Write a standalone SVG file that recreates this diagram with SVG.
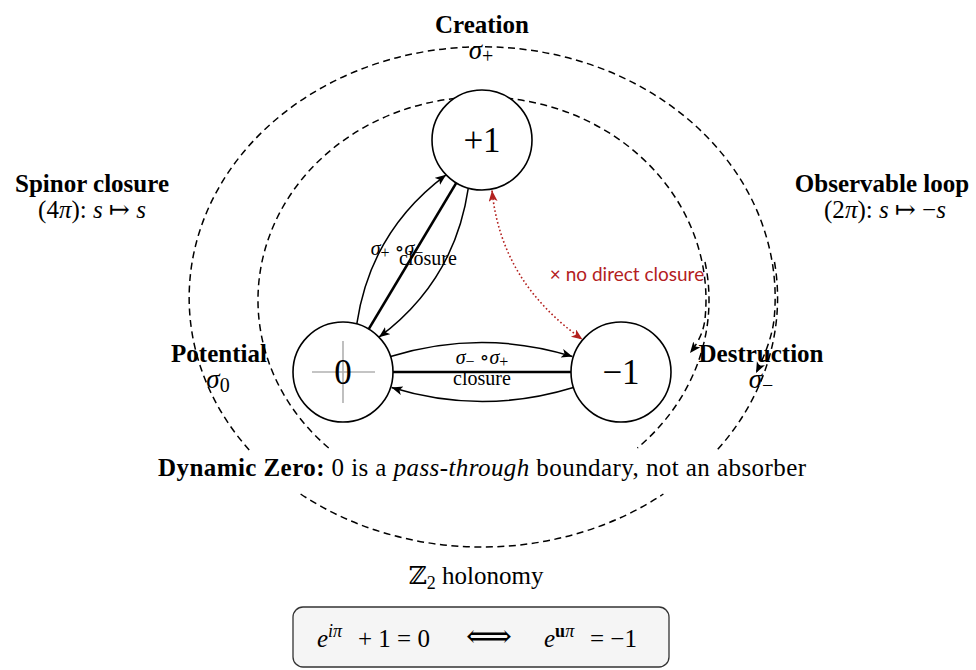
<svg xmlns="http://www.w3.org/2000/svg" width="976" height="670" viewBox="0 0 976 670">
<defs>
<marker id="ah" markerWidth="13" markerHeight="10" refX="11" refY="4.5" orient="auto" markerUnits="userSpaceOnUse">
<path d="M0,0 L11,4.5 L0,9 L2.8,4.5 z" fill="#000"/>
</marker>
<marker id="ahr" markerWidth="13" markerHeight="10" refX="11" refY="4.5" orient="auto-start-reverse" markerUnits="userSpaceOnUse">
<path d="M0,0 L11,4.5 L0,9 L2.8,4.5 z" fill="#b3201e"/>
</marker>
</defs>
<style>
text{font-family:"Liberation Serif","Times New Roman","DejaVu Serif",serif;fill:#000}
.b{font-weight:bold;font-size:25px}
.r{font-size:25px}
.it{font-style:italic}
.num{font-size:35px}
.lab{font-size:20px}
.sub{font-size:20px}
.dash{fill:none;stroke:#000;stroke-width:1.5;stroke-dasharray:7 4.5}
.edge{fill:none;stroke:#000;stroke-width:1.5}
.thick{fill:none;stroke:#000;stroke-width:2.6}
.node circle{fill:#fff;stroke:#000;stroke-width:1.6}
.red{fill:none;stroke:#b3201e;stroke-width:1.6;stroke-dasharray:1.6 2.4}
.redt{font-family:"Lato","Liberation Sans",sans-serif;font-size:19px;fill:#b3201e}
</style>
<rect width="976" height="670" fill="#fff"/>

<g id="loops">
<path class="dash" d="M249.2,450 A293,251 0 1 1 774.2,318 Q772,341 756,373" marker-end="url(#ah)"/>
<path class="dash" d="M774.5,262 A296,251 0 0 1 717.2,450"/>
<path class="dash" d="M300.6,494 A293,247 0 0 0 663.4,494"/>
<path class="dash" d="M328.7,448 A224,203 0 1 1 705.1,318 Q703.5,336 690,353" marker-end="url(#ah)"/>
<path class="dash" d="M705,262 A227,203 0 0 1 637.4,448"/>
</g>

<g id="labels">
<text class="b" x="482" y="33" text-anchor="middle">Creation</text>
<text class="r" x="481" y="59" text-anchor="middle"><tspan class="it" font-size="27">σ</tspan><tspan class="sub" dy="4">+</tspan></text>
<text class="b" x="92" y="192" text-anchor="middle">Spinor closure</text>
<text class="r" x="92" y="218" text-anchor="middle">(4<tspan class="it">π</tspan>): <tspan class="it">s</tspan> ↦ <tspan class="it">s</tspan></text>
<text class="b" x="882" y="192" text-anchor="middle">Observable loop</text>
<text class="r" x="885" y="218" text-anchor="middle">(2<tspan class="it">π</tspan>): <tspan class="it">s</tspan> ↦ −<tspan class="it">s</tspan></text>
<text class="b" x="219" y="362" text-anchor="middle">Potential</text>
<text class="r" x="218" y="388" text-anchor="middle"><tspan class="it" font-size="27">σ</tspan><tspan class="sub" dy="4">0</tspan></text>
<text class="b" x="761" y="362" text-anchor="middle">Destruction</text>
<text class="r" x="761" y="388" text-anchor="middle"><tspan class="it" font-size="27">σ</tspan><tspan class="sub" dy="4">−</tspan></text>
</g>

<g id="edges">
<line class="thick" x1="368.7" y1="329.1" x2="456.3" y2="182.9"/>
<path class="edge" d="M356.8,323.9 Q370.6,230.9 446.1,174.8" marker-end="url(#ah)"/>
<path class="edge" d="M468.3,188.1 Q454.5,281.2 378.9,337.2" marker-end="url(#ah)"/>
<line class="thick" x1="393" y1="372" x2="571" y2="372"/>
<path class="edge" d="M390.6,356.5 Q482,328.5 572.4,356.5" marker-end="url(#ah)"/>
<path class="edge" d="M573.4,387.5 Q482,415.5 391.6,387.5" marker-end="url(#ah)"/>
<path class="red" d="M492,190.5 Q501,282 582.5,339.5" marker-start="url(#ahr)" marker-end="url(#ahr)"/>
</g>

<g id="node-plus1" class="node">
<circle cx="482" cy="140" r="50"/>
<text class="num" x="482" y="152" text-anchor="middle">+1</text>
</g>
<g id="node-zero" class="node">
<circle cx="343" cy="372" r="50"/>
<line x1="312" y1="372" x2="375" y2="372" stroke="#b0b0b0" stroke-width="1.6"/>
<line x1="343" y1="341" x2="343" y2="403" stroke="#b0b0b0" stroke-width="1.6"/>
<text class="num" x="343" y="384" text-anchor="middle">0</text>
</g>
<g id="node-minus1" class="node">
<circle cx="621" cy="372" r="50"/>
<text class="num" x="621" y="384" text-anchor="middle">−1</text>
</g>

<g id="edge-labels">
<text class="lab" x="397" y="255" text-anchor="middle"><tspan class="it">σ</tspan><tspan font-size="16" dy="3">+</tspan><tspan dy="-3"> ∘</tspan><tspan class="it">σ</tspan><tspan font-size="16" dy="3">−</tspan></text>
<text class="lab" x="428" y="265" text-anchor="middle">closure</text>
<text class="lab" x="482" y="364" text-anchor="middle"><tspan class="it">σ</tspan><tspan font-size="16" dy="3">−</tspan><tspan dy="-3"> ∘</tspan><tspan class="it">σ</tspan><tspan font-size="16" dy="3">+</tspan></text>
<text class="lab" x="482" y="385" text-anchor="middle">closure</text>
<text class="redt" x="627" y="281" text-anchor="middle">× no direct closure</text>
</g>

<g id="caption">
<text class="r" x="482" y="476" text-anchor="middle" textLength="648"><tspan font-weight="bold">Dynamic Zero:</tspan> 0 is a <tspan class="it">pass-through</tspan> boundary, not an absorber</text>
<text class="r" x="476" y="584" text-anchor="middle">ℤ<tspan font-size="18" dy="5">2</tspan><tspan dy="-5"> holonomy</tspan></text>
</g>

<g id="formula">
<rect x="293" y="607" width="376" height="60" rx="10" fill="#f5f5f5" stroke="#333" stroke-width="1.3"/>
<text class="r" y="647"><tspan x="317" class="it">e</tspan><tspan font-size="18" dy="-10" class="it">iπ</tspan><tspan dy="10" x="358">+ 1 = 0</tspan><tspan x="466" font-size="32">⟺</tspan><tspan x="544" class="it">e</tspan><tspan font-size="18" dy="-10" font-weight="bold">u</tspan><tspan font-size="18" class="it">π</tspan><tspan dy="10" x="590">= −1</tspan></text>
</g>
</svg>
